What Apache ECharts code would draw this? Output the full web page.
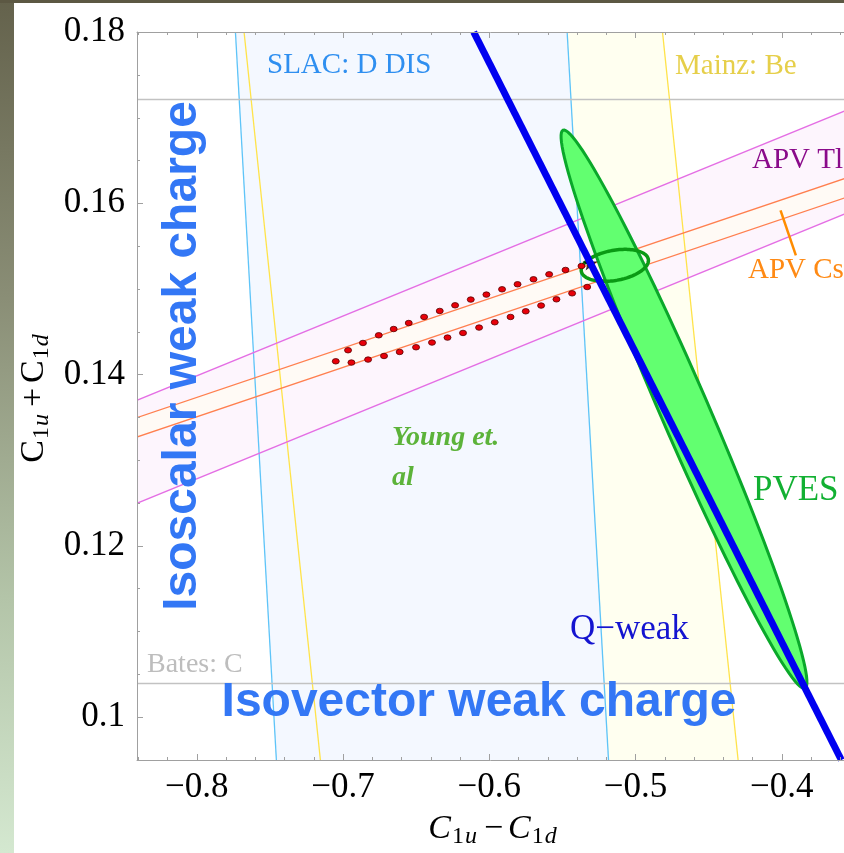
<!DOCTYPE html>
<html>
<head>
<meta charset="utf-8">
<script src="https://cdn.jsdelivr.net/npm/echarts@6/dist/echarts.min.js"></script>
<style>
  html, body { margin: 0; padding: 0; background: #ffffff; }
  #c { width: 844px; height: 853px; }
</style>
</head>
<body>
<div id="c"></div>
<script>
// ---- axis ranges and ticks ----
const xRange = [-0.8408, -0.3574];
const yRange = [0.09495, 0.18];
const xMajor = [-0.8, -0.7, -0.6, -0.5, -0.4];
const xMinor = [-0.84, -0.82, -0.78, -0.76, -0.74, -0.72, -0.68, -0.66, -0.64, -0.62,
                -0.58, -0.56, -0.54, -0.52, -0.48, -0.46, -0.44, -0.42, -0.38, -0.36];
const yMajor = [0.10, 0.12, 0.14, 0.16, 0.18];
const yMinor = [0.105, 0.11, 0.115, 0.125, 0.13, 0.135, 0.145, 0.15, 0.155, 0.165, 0.17, 0.175];

// ---- experimental bands: each is a pair of boundary lines [[x,y],[x,y]] ----
const slacEdges  = [[[-0.7735, 0.18], [-0.7455, 0.09495]], [[-0.5467, 0.18], [-0.5184, 0.09495]]];
const mainzEdges = [[[-0.7676, 0.18], [-0.7154, 0.09495]], [[-0.4815, 0.18], [-0.4298, 0.09495]]];
const apvTlEdges = [[[-0.85, 0.13633], [-0.35, 0.17126]], [[-0.85, 0.12430], [-0.35, 0.15923]]];
const apvCsEdges = [[[-0.85, 0.13442], [-0.35, 0.16328]], [[-0.85, 0.13216], [-0.35, 0.16102]]];
const batesLevels = [0.1039, 0.1721];
const qweakLine = [[-0.6106, 0.18], [-0.3592, 0.09495]];
const apvCsPointer = [[-0.4008, 0.15917], [-0.3903, 0.15391]];

// ---- ellipses: centre and two conjugate semi-axes (data units) ----
const pvesCenter = [-0.4668, 0.13593];
const pvesAxes = [[0.0827, -0.0326], [0.01506, 0.001114]];
const youngCenter = [-0.5141, 0.15274];
const youngAxes = [[0.02291, 0.000701], [0.00178, -0.00173]];

// ---- earlier fit contour (dotted), upper and lower edges ----
const fitUpper = [
  [-0.6965, 0.14282], [-0.6863, 0.14367], [-0.6755, 0.14457], [-0.6653, 0.14530],
  [-0.6550, 0.14600], [-0.6445, 0.14671], [-0.6338, 0.14741], [-0.6233, 0.14807],
  [-0.6126, 0.14874], [-0.6019, 0.14932], [-0.5912, 0.14994], [-0.5806, 0.15053],
  [-0.5697, 0.15111], [-0.5590, 0.15169], [-0.5478, 0.15220], [-0.5369, 0.15266]
];
const fitLower = [
  [-0.7049, 0.14153], [-0.6942, 0.14138], [-0.6828, 0.14173], [-0.6719, 0.14215],
  [-0.6612, 0.14262], [-0.6500, 0.14317], [-0.6391, 0.14372], [-0.6285, 0.14430],
  [-0.6179, 0.14484], [-0.6069, 0.14547], [-0.5962, 0.14609], [-0.5854, 0.14671],
  [-0.5750, 0.14737], [-0.5645, 0.14804], [-0.5540, 0.14877], [-0.5433, 0.14947],
  [-0.5330, 0.15021]
];
const standardModel = [[-0.5310, 0.1530]];

// ---- drawing helpers ----
const SERIF = '"Liberation Serif", "DejaVu Serif", serif';
const SANS = '"Liberation Sans", Arial, sans-serif';
const FRAME = '#a0a0a0';

function bandFill(edges, fill) {
  return {
    type: 'custom', clip: true, silent: true, data: [[edges[0][0][0], edges[0][0][1]]],
    renderItem: (params, api) => {
      const a = edges[0].map(p => api.coord(p));
      const b = edges[1].map(p => api.coord(p));
      return { type: 'polygon', shape: { points: [a[0], a[1], b[1], b[0]] }, style: { fill: fill } };
    }
  };
}
function bandLines(edges, stroke, width) {
  return {
    type: 'custom', clip: true, silent: true, data: [[edges[0][0][0], edges[0][0][1]]],
    renderItem: (params, api) => ({
      type: 'group',
      children: edges.map(e => ({
        type: 'polyline', shape: { points: e.map(p => api.coord(p)) },
        style: { stroke: stroke, lineWidth: width, fill: null }
      }))
    })
  };
}
function levelLines(levels, stroke, width) {
  return {
    type: 'custom', clip: true, silent: true, data: levels.map(v => [xRange[0], v]),
    renderItem: (params, api) => {
      const y = api.value(1);
      const p1 = api.coord([xRange[0], y]), p2 = api.coord([xRange[1], y]);
      return { type: 'line', shape: { x1: p1[0], y1: p1[1], x2: p2[0], y2: p2[1] },
               style: { stroke: stroke, lineWidth: width } };
    }
  };
}
function ellipse(center, axes, style) {
  return {
    type: 'custom', clip: true, silent: true, data: [center],
    renderItem: (params, api) => {
      const pts = [];
      const n = 120;
      for (let k = 0; k < n; k++) {
        const t = 2 * Math.PI * k / n;
        const c = Math.cos(t), s = Math.sin(t);
        pts.push(api.coord([center[0] + axes[0][0] * c + axes[1][0] * s,
                            center[1] + axes[0][1] * c + axes[1][1] * s]));
      }
      return { type: 'polygon', shape: { points: pts }, style: style };
    }
  };
}
// inward frame ticks: x ticks on bottom and top edges, y ticks on the left edge
function frameTicks() {
  const items = [];
  xMajor.forEach(v => items.push([v, yRange[0], 0, 6]));
  xMinor.forEach(v => items.push([v, yRange[0], 0, 3]));
  yMajor.forEach(v => items.push([xRange[0], v, 1, 6]));
  yMinor.forEach(v => items.push([xRange[0], v, 1, 3]));
  return {
    type: 'custom', clip: false, silent: true, z: 20, data: items,
    renderItem: (params, api) => {
      const p = api.coord([api.value(0), api.value(1)]);
      const len = api.value(3);
      const style = { stroke: FRAME, lineWidth: 1 };
      if (api.value(2) === 0) {
        const top = api.coord([api.value(0), yRange[1]]);
        const x = Math.round(p[0]) + 0.5;
        return { type: 'group', children: [
          { type: 'line', shape: { x1: x, y1: p[1], x2: x, y2: p[1] - len }, style: style },
          { type: 'line', shape: { x1: x, y1: top[1], x2: x, y2: top[1] + len }, style: style }
        ] };
      }
      const y = Math.round(p[1]) + 0.5;
      return { type: 'line', shape: { x1: p[0], y1: y, x2: p[0] + len, y2: y }, style: style };
    }
  };
}

const fmtX = v => (v < 0 ? '\u2212' : '') + Math.abs(v).toFixed(1);
const fmtY = v => String(parseFloat(v.toFixed(3)));

const subTitle = (sign, cItalic) => ({
  text: '{c|C}{s|1}{i|u}{m|' + sign + '}{c|C}{s|1}{i|d}',
  rich: {
    c: { fontFamily: SERIF, fontStyle: cItalic ? 'italic' : 'normal', fontSize: 34, lineHeight: 40, fill: '#000' },
    s: { fontFamily: SERIF, fontSize: 24, lineHeight: 21, verticalAlign: 'bottom', fill: '#000', padding: [0, 1, 0, 1] },
    i: { fontFamily: SERIF, fontStyle: 'italic', fontSize: 24, lineHeight: 21, verticalAlign: 'bottom', fill: '#000', padding: [0, 5, 0, 0] },
    m: { fontFamily: SERIF, fontSize: 34, lineHeight: 40, fill: '#000', padding: [0, 5, 0, 2] }
  },
  align: 'center', verticalAlign: 'middle'
});

const txt = (x, y, text, size, color, extra) => ({
  type: 'text', x: x, y: y, z: 100, silent: true,
  style: Object.assign({ text: text, fontFamily: SERIF, fontSize: size, fill: color, align: 'left', verticalAlign: 'middle' }, extra || {})
});

const chart = echarts.init(document.getElementById('c'));
chart.setOption({
  animation: false,
  backgroundColor: '#ffffff',
  grid: { left: 137, right: 0, top: 32, bottom: 93, containLabel: false },
  xAxis: [
    {
      type: 'value', position: 'bottom', min: xRange[0], max: xRange[1], z: 20, splitLine: { show: false },
      axisLine: { show: true, onZero: false, lineStyle: { color: FRAME, width: 1 } },
      axisTick: { show: false },
      axisLabel: { customValues: xMajor, formatter: fmtX, fontFamily: SERIF, fontSize: 35, color: '#000', margin: 10 }
    },
    {
      type: 'value', position: 'top', min: xRange[0], max: xRange[1], z: 20, splitLine: { show: false },
      axisLine: { show: true, onZero: false, lineStyle: { color: FRAME, width: 1 } },
      axisTick: { show: false }, axisLabel: { show: false }
    }
  ],
  yAxis: [
    {
      type: 'value', position: 'left', min: yRange[0], max: yRange[1], z: 20, splitLine: { show: false },
      axisLine: { show: true, onZero: false, lineStyle: { color: FRAME, width: 1 } },
      axisTick: { show: false },
      axisLabel: { customValues: yMajor, formatter: fmtY, fontFamily: SERIF, fontSize: 35, color: '#000', margin: 12 }
    }
  ],
  series: [
    // band fills
    bandFill(mainzEdges, '#fffff0'),
    bandFill(slacEdges, '#f4f8ff'),
    bandFill(apvTlEdges, '#fdf5fd'),
    bandFill(apvCsEdges, '#fffaf5'),
    // band boundaries
    bandLines(slacEdges, '#5ec4f8', 1.3),
    bandLines(mainzEdges, '#ffe34a', 1.3),
    bandLines(apvTlEdges, '#e46ee4', 1.3),
    bandLines(apvCsEdges, '#ff7f4f', 1.3),
    // Bates: C
    levelLines(batesLevels, '#c2c2c2', 1.5),
    // PVES
    ellipse(pvesCenter, pvesAxes, { fill: '#62ff70', stroke: '#0aa82a', lineWidth: 3 }),
    // Q-weak
    {
      type: 'line', silent: true, symbol: 'none', clip: true, data: qweakLine,
      lineStyle: { color: '#0000f0', width: 7 }
    },
    // Young et al.
    ellipse(youngCenter, youngAxes, { fill: null, stroke: '#0a9a14', lineWidth: 3.5 }),
    // dotted fit contour
    {
      type: 'scatter', silent: true, data: fitUpper.concat(fitLower),
      symbol: 'circle', symbolSize: [7, 5.5],
      itemStyle: { color: '#e8000a', borderColor: '#5a0000', borderWidth: 0.8, opacity: 1 }
    },
    // standard model point
    {
      type: 'scatter', silent: true, data: standardModel, symbolSize: 15,
      symbol: 'path://M50,0 L61,35 L98,35 L68,57 L79,91 L50,70 L21,91 L32,57 L2,35 L39,35 Z',
      itemStyle: { color: '#000000' }
    },
    // APV Cs pointer
    {
      type: 'line', silent: true, symbol: 'none', data: apvCsPointer,
      lineStyle: { color: '#ff8c00', width: 2.5 }
    },
    frameTicks()
  ],
  graphic: [
    // slide frame strips
    { type: 'rect', x: 0, y: 0, z: -10, silent: true, shape: { width: 14, height: 853 },
      style: { fill: new echarts.graphic.LinearGradient(0, 0, 0, 1, [
        { offset: 0, color: '#64624c' }, { offset: 0.35, color: '#8a8e76' },
        { offset: 0.7, color: '#b3c4a8' }, { offset: 1, color: '#d4e8d0' }]) } },
    { type: 'rect', x: 0, y: 0, z: -9, silent: true, shape: { width: 844, height: 3 }, style: { fill: '#5c5843' } },
    // axis titles
    { type: 'text', x: 495, y: 829, z: 100, silent: true, style: subTitle('\u2212', true) },
    { type: 'text', x: 34, y: 396, z: 100, silent: true, rotation: Math.PI / 2, style: subTitle('+', false) },
    // band labels
    txt(267, 65, 'SLAC: D DIS', 29, '#2f8ff0'),
    txt(675, 66, 'Mainz: Be', 29, '#e6cf4a'),
    txt(752, 160, 'APV Tl', 29, '#8a0a8a'),
    txt(748, 270, 'APV Cs', 29, '#ff8a14'),
    txt(753, 491, 'PVES', 35, '#12b032'),
    txt(570, 630, 'Q\u2212weak', 35, '#1414d0'),
    txt(392, 438, 'Young et.', 28, '#5cb33a', { fontWeight: 'bold', fontStyle: 'italic' }),
    txt(392, 478, 'al', 28, '#5cb33a', { fontWeight: 'bold', fontStyle: 'italic' }),
    txt(147, 665, 'Bates: C', 28, '#bdbdbd'),
    // headline annotations
    txt(479, 703, 'Isovector weak charge', 48, '#3377f5', { fontFamily: SANS, fontWeight: 'bold', align: 'center' }),
    { type: 'text', x: 183, y: 356, z: 100, silent: true, rotation: Math.PI / 2,
      style: { text: 'Isoscalar weak charge', fontFamily: SANS, fontWeight: 'bold', fontSize: 48,
               fill: '#3377f5', align: 'center', verticalAlign: 'middle' } }
  ]
});
</script>
</body>
</html>
